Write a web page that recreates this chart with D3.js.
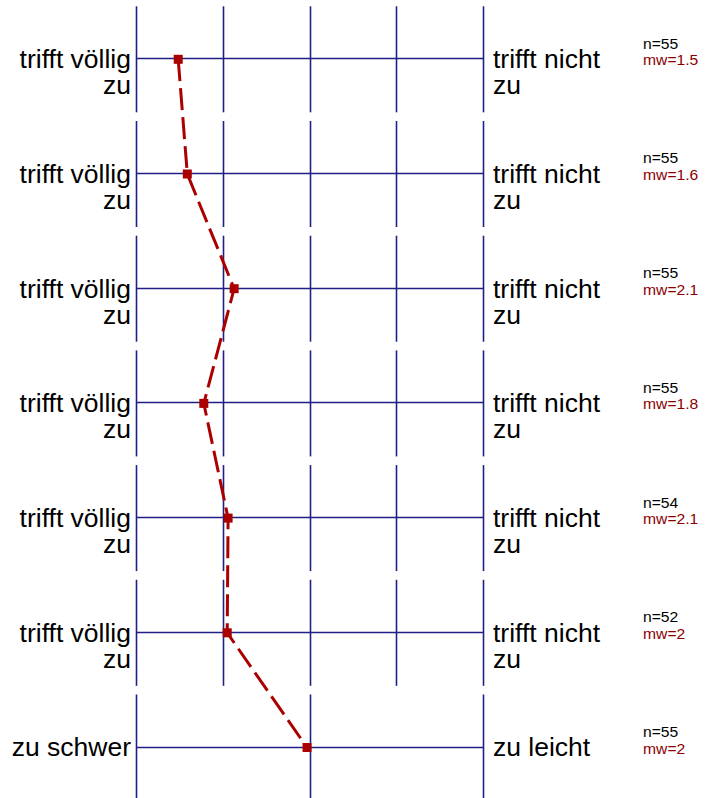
<!DOCTYPE html>
<html>
<head>
<meta charset="utf-8">
<script src="https://cdn.jsdelivr.net/npm/d3@7"></script>
<style>
  html, body { margin: 0; padding: 0; background: #fff; }
  svg { display: block; font-family: "Liberation Sans", Arial, sans-serif; }
</style>
</head>
<body>
<svg id="chart" width="715" height="798"></svg>
<script>
// ---- data ----
const leftLabels  = [["trifft völlig","zu"],["trifft völlig","zu"],["trifft völlig","zu"],["trifft völlig","zu"],["trifft völlig","zu"],["trifft völlig","zu"],["zu schwer"]];
const rightLabels = [["trifft nicht","zu"],["trifft nicht","zu"],["trifft nicht","zu"],["trifft nicht","zu"],["trifft nicht","zu"],["trifft nicht","zu"],["zu leicht"]];
const scaleMax    = [5, 5, 5, 5, 5, 5, 3];
const means       = [1.475, 1.58, 2.12, 1.77, 2.05, 2.04, 1.98];
const nValues     = [55, 55, 55, 55, 54, 52, 55];
const mwLabels    = ["1.5", "1.6", "2.1", "1.8", "2.1", "2", "2"];

// ---- layout ----
const svg = d3.select("#chart");
const gridColor = "#1f1f85";
const red = "#aa0000";
const left = 137, right = 484;
const halfH = 53;

const y = d3.scalePoint().domain(d3.range(means.length)).range([59.3, 747.5]);
const xFor = i => d3.scaleLinear().domain([1, scaleMax[i]]).range([left, right]);

const rows = svg.append("g").selectAll("g.row")
  .data(means.map((m, i) => i))
  .join("g").attr("class", "row");

rows.each(function(i) {
  const g = d3.select(this);
  const x = xFor(i);
  const ticks = d3.range(1, scaleMax[i] + 1);
  g.selectAll("line.v").data(ticks).join("line")
    .attr("class", "v")
    .attr("x1", d => Math.round(x(d)) - 0.5).attr("x2", d => Math.round(x(d)) - 0.5)
    .attr("y1", y(i) - halfH).attr("y2", y(i) + halfH)
    .attr("stroke", gridColor).attr("stroke-width", 1.6);
  g.append("line")
    .attr("x1", left - 1).attr("x2", right)
    .attr("y1", Math.round(y(i)) - 0.5).attr("y2", Math.round(y(i)) - 0.5)
    .attr("stroke", gridColor).attr("stroke-width", 1.6);

  const ll = leftLabels[i];
  const off0 = ll.length > 1 ? 9 : 8.5;
  const lt = g.append("text")
    .attr("text-anchor", "end")
    .attr("font-size", 26.5)
    .attr("fill", "#000");
  ll.forEach((t, k) => lt.append("tspan").attr("x", 131).attr("y", y(i) + off0 + k * 26).text(t));

  const rl = rightLabels[i];
  const rt = g.append("text")
    .attr("text-anchor", "start")
    .attr("font-size", 26.5)
    .attr("fill", "#000");
  rl.forEach((t, k) => rt.append("tspan").attr("x", 493).attr("y", y(i) + off0 + k * 26).text(t));

  const st = g.append("g").attr("transform", `translate(643,${y(i)}) scale(1.12,1)`);
  st.append("text").attr("x", 0).attr("y", -10.6)
    .attr("font-size", 14).attr("fill", "#000").text("n=" + nValues[i]);
  st.append("text").attr("x", 0).attr("y", 6)
    .attr("font-size", 14).attr("fill", "#8b0000").text("mw=" + mwLabels[i]);
});

const pts = means.map((m, i) => [xFor(i)(m), y(i)]);
svg.append("path")
  .attr("d", d3.line()(pts))
  .attr("fill", "none")
  .attr("stroke", red)
  .attr("stroke-width", 3)
  .attr("stroke-dasharray", "22,7");

svg.append("g").selectAll("rect")
  .data(pts).join("rect")
  .attr("x", d => d[0] - 4.5).attr("y", d => d[1] - 4.5)
  .attr("width", 9).attr("height", 9)
  .attr("fill", red);
</script>
</body>
</html>
